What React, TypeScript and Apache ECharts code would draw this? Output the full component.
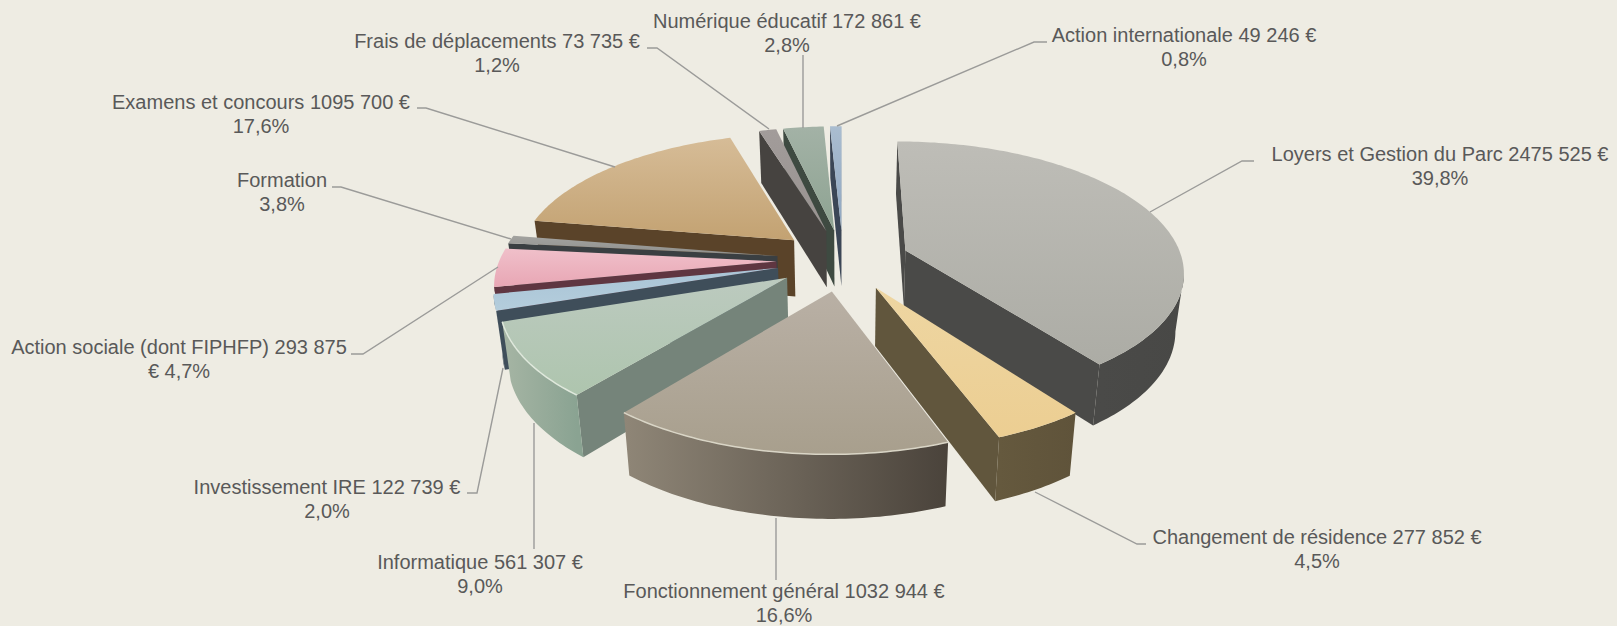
import React, { useEffect, useRef } from "react";
import * as echarts from "echarts";

const CATEGORIES = ["Loyers et Gestion du Parc","Changement de résidence","Fonctionnement général","Informatique","Investissement IRE","Action sociale (dont FIPHFP)","Formation","Examens et concours","Frais de déplacements","Numérique éducatif","Action internationale"];
// Euros as printed. Formation has no printed amount: estimated from the slice drawn in the picture.
const VALUES = [2475525,277852,1032944,561307,122739,293875,62000,1095700,73735,172861,49246];
const LABEL_TEXTS = [
  "Loyers et Gestion du Parc 2475 525 €\n39,8%",
  "Changement de résidence 277 852 €\n4,5%",
  "Fonctionnement général 1032 944 €\n16,6%",
  "Informatique 561 307 €\n9,0%",
  "Investissement IRE 122 739 €\n2,0%",
  "Action sociale (dont FIPHFP) 293 875\n€ 4,7%",
  "Formation\n3,8%",
  "Examens et concours 1095 700 €\n17,6%",
  "Frais de déplacements 73 735 €\n1,2%",
  "Numérique éducatif 172 861 €\n2,8%",
  "Action internationale 49 246 €\n0,8%",
];
const PAINT_ORDER = [7,10,9,8,0,6,5,4,3,2,1];

const LABEL_POS = [[1440,166],[1317,549],[784,603],[480,574],[327,499],[179,359],[282,192],[261,114],[497,53],[787,33],[1184,47]];
const LEADERS = [
  [[1254,161],[1242,161],[1150,212]],
  [[1035,492],[1137,544],[1146,544]],
  [[776,518],[776,580]],
  [[534,423],[534,549]],
  [[467,493],[477,493],[503,368]],
  [[351,354],[363,354],[498,267]],
  [[332,187],[341,187],[511,239]],
  [[417,108],[426,108],[615,167]],
  [[647,48],[657,48],[769,129]],
  [[803,55],[803,128]],
  [[1047,42],[1034,42],[837,126]],
];
const STYLES = [
  { top:["#bebdb7","#acaca5"], cut:"#4a4a48", wall:["#4a4a48","#484846"] },
  { top:["#eed6a2","#ecce92"], cut:"#61563d", wall:["#65593e","#5f533a"] },
  { top:["#b9b0a5","#a89f8d"], cut:"#6e6558", wall:["#8f8677","#4a433b"], rim:"#d9d5c6" },
  { top:["#bccabf","#aec5ae"], cut:"#75847a", wall:["#a6b5a4","#8aa392"], rim:"#dfe8dc" },
  { top:["#a9c4d6","#b4cddc"], cut:"#3f4e5a", wall:["#3f4e5a","#3f4e5a"] },
  { top:["#f0c0ca","#e8a6b4"], cut:"#5f3641", wall:["#5f3641","#5f3641"] },
  { top:["#a3a3a0","#8e8e8b"], cut:"#3a3f42", wall:["#3a3f42","#3a3f42"] },
  { top:["#d6bc97","#c3a272"], cut:"#5a4329", wall:["#5a4329","#5a4329"] },
  { top:["#a29c9a","#989290"], cut:"#464340", wall:["#464340","#464340"] },
  { top:["#a3b2a6","#8ea392"], cut:"#3e4a41", wall:["#3e4a41","#3e4a41"] },
  { top:["#aabdd0","#8fa6c0"], cut:"#3b4656", wall:["#3b4656","#3b4656"] },
];

const CX = 843, CY = 260, RX = 277, RY = 128, PERSP = 0.15, EXPLODE = 0.24, DEPTH_A = 24, DEPTH_B = 33, SHRINK = 0.975;
const FONT = '20px "Liberation Sans"';
const TOTAL = VALUES.reduce((a, b) => a + b, 0);

function project(X: number, Y: number) {
  const p = 1 / (1 + PERSP * Y);
  return [CX + RX * X * p, CY - RY * Y * p, p];
}
const under = (q: number[]) => [CX + (q[0] - CX) * SHRINK, q[1] + DEPTH_A + DEPTH_B * q[2]];
const xy = (q: number[]) => [q[0], q[1]];

function sliceGeometry(i: number) {
  const before = VALUES.slice(0, i).reduce((a, b) => a + b, 0);
  const t0 = (before / TOTAL) * Math.PI * 2;
  const t1 = ((before + VALUES[i]) / TOTAL) * Math.PI * 2;
  const m = (t0 + t1) / 2;
  const ox = EXPLODE * Math.sin(m), oy = EXPLODE * Math.cos(m);
  const n = Math.max(2, Math.ceil((t1 - t0) / (Math.PI / 180)));
  const arc: number[][] = [];
  for (let k = 0; k <= n; k++) {
    const t = t0 + ((t1 - t0) * k) / n;
    arc.push(project(ox + Math.sin(t), oy + Math.cos(t)));
  }
  return { apex: project(ox, oy), arc };
}

function renderSlice(params: any, api: any) {
  const i = api.value(0);
  const st = STYLES[i];
  const { apex, arc } = sliceGeometry(i);
  const children: any[] = [];
  const quad = (a: number[], b: number[]) => [xy(a), xy(b), under(b), under(a)];
  const first = arc[0], last = arc[arc.length - 1];
  if (first[0] < apex[0]) children.push({ type: "polygon", shape: { points: quad(apex, first) }, style: { fill: st.cut } });
  if (apex[0] < last[0]) children.push({ type: "polygon", shape: { points: quad(last, apex) }, style: { fill: st.cut } });
  let a = -1, b = -1;
  for (let k = 0; k + 1 < arc.length; k++) {
    if (arc[k + 1][0] < arc[k][0]) { if (a < 0) a = k; b = k + 1; }
  }
  if (a >= 0) {
    const seg = arc.slice(a, b + 1);
    const pts = seg.map(xy).concat(seg.slice().reverse().map(under));
    children.push({
      type: "polygon", shape: { points: pts },
      style: { fill: { type: "linear", x: seg[seg.length - 1][0], y: 0, x2: seg[0][0], y2: 0, global: true,
        colorStops: [{ offset: 0, color: st.wall[0] }, { offset: 1, color: st.wall[1] }] } },
    });
  }
  children.push({
    type: "polygon", shape: { points: [xy(apex)].concat(arc.map(xy)) },
    style: { fill: new echarts.graphic.LinearGradient(0, 0, 0, 1, [{ offset: 0, color: st.top[0] }, { offset: 1, color: st.top[1] }]) },
  });
  if (st.rim && a >= 0) {
    children.push({ type: "polyline", shape: { points: arc.slice(a, b + 1).map(xy) }, style: { stroke: st.rim, lineWidth: 1.5, fill: "none" } });
  }
  return { type: "group", children };
}

export default function App() {
  const ref = useRef<HTMLDivElement>(null);
  useEffect(() => {
    document.body.style.margin = "0";
    document.body.style.background = "#eeece3";
    const chart = echarts.init(ref.current!, undefined, { renderer: "svg" });
    const graphics: any[] = [];
    LEADERS.forEach((pts) => graphics.push({ type: "polyline", z: 5, shape: { points: pts }, style: { stroke: "#9b9b99", lineWidth: 1.4, fill: "none" } }));
    LABEL_TEXTS.forEach((t, i) => graphics.push({
      type: "text", z: 6, x: LABEL_POS[i][0], y: LABEL_POS[i][1],
      style: { text: t, font: FONT, fill: "#595959", textAlign: "center", textVerticalAlign: "middle", lineHeight: 24 },
    }));
    chart.setOption({
      animation: false,
      backgroundColor: "#eeece3",
      graphic: graphics,
      series: [{
        type: "custom", coordinateSystem: "none", clip: false, silent: true,
        renderItem: renderSlice,
        encode: { value: 1 },
        data: PAINT_ORDER.map((i) => ({ name: CATEGORIES[i], value: [i, VALUES[i]] })),
      }],
    });
    return () => chart.dispose();
  }, []);
  return <div ref={ref} style={{ position: "fixed", left: 0, top: 0, width: 1617, height: 626 }} />;
}
